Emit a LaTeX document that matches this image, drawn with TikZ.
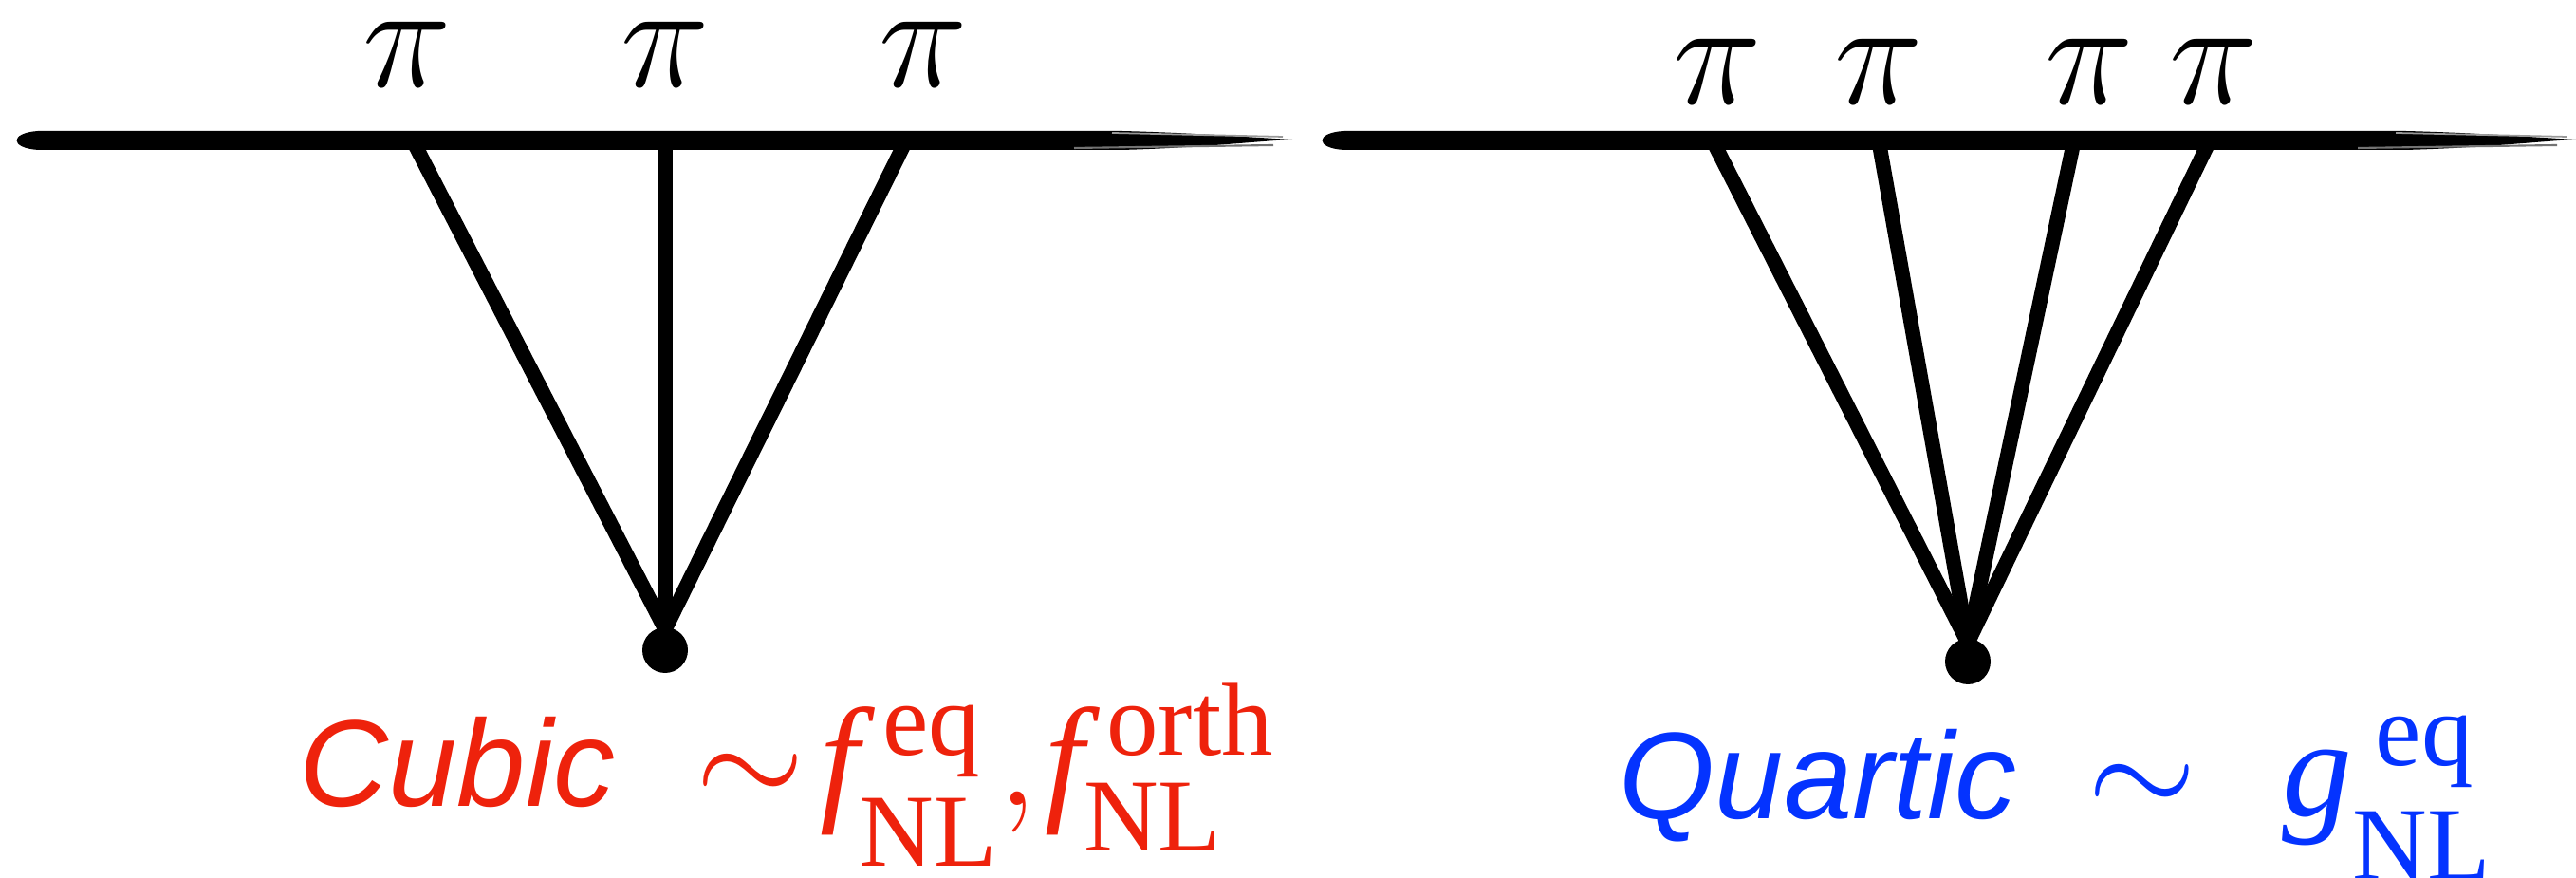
\documentclass[tikz,border=0pt]{standalone}
\usepackage{fix-cm}
\usepackage{mathtools}
\usepackage{fontspec}
\setmainfont{Liberation Serif}
\setsansfont{Liberation Sans}
\usepackage{tikz}
\DeclareMathSizes{42}{42}{31}{24}
\definecolor{cubicred}{HTML}{EE220C}
\definecolor{quarticblue}{HTML}{0433FF}
% symbol with eq/orth on top and NL below, #3 = extra drop of NL
\newcommand{\nlsym}[3]{\mathit{#1}\mathrlap{^{\mkern4mu\mathrm{#2}}}{}_{\raisebox{-#3}{$\scriptstyle\mathrm{NL}$}}}

\begin{document}
\begin{tikzpicture}[
  leg/.style={line width=4.4pt},
  vert/.style={circle, fill=black, inner sep=0pt, minimum size=0.48cm},
  pil/.style={inner sep=0pt, font=\fontsize{45}{45}\selectfont},
  lab/.style={anchor=base west, inner sep=0pt, font=\fontsize{37}{40}\selectfont\sffamily\itshape},
  mlab/.style={anchor=base west, inner sep=0pt, font=\fontsize{42}{48}\selectfont}
]
  \useasboundingbox (0,0) rectangle (27.15,9.25);
  % the two brush strokes
  \foreach \a/\b in {0.25/13.62, 14.01/27.15} {
    \fill (\a+0.15,7.67) .. controls (\a-0.15,7.69) and (\a-0.15,7.85) .. (\a+0.15,7.87)
      -- (\b-1.8,7.87) .. controls (\b-1.0,7.85) and (\b-0.4,7.80) .. (\b,7.78)
      .. controls (\b-0.4,7.76) and (\b-1.0,7.69) .. (\b-1.8,7.67) -- cycle;
    \draw[black!55, line width=0.6pt] (\b-2.3,7.69) -- (\b-0.2,7.72);
    \draw[black!40, line width=0.5pt] (\b-1.9,7.85) -- (\b-0.1,7.81);
  }

  % cubic
  \node[pil] (p1) at (4.29,8.68) {$\pi$};
  \node[pil] (p2) at (7.01,8.68) {$\pi$};
  \node[pil] (p3) at (9.73,8.68) {$\pi$};
  \coordinate (t1) at (4.35,7.77);
  \coordinate (t2) at (7.01,7.77);
  \coordinate (t3) at (9.55,7.77);
  \coordinate (c) at (7.01,2.62);
  \node[vert] (v) at (7.01,2.40) {};
  \foreach \t in {t1,t2,t3}
    \draw[leg] (\t) -- (c);
  \node[lab, text=cubicred] (cubic) at (3.15,0.75) {Cubic};
  \node[mlab, text=cubicred] (fnl) at (7.33,0.76)
    {$\sim\mkern-3mu \nlsym{f}{eq}{11.7pt}\mathrm{,}\mkern1mu\nlsym{f}{orth}{7.3pt}$};

  % quartic
  \node[pil] (q1) at (18.10,8.50) {$\pi$};
  \node[pil] (q2) at (19.80,8.50) {$\pi$};
  \node[pil] (q3) at (22.02,8.50) {$\pi$};
  \node[pil] (q4) at (23.33,8.50) {$\pi$};
  \coordinate (s1) at (18.05,7.77);
  \coordinate (s2) at (19.80,7.77);
  \coordinate (s3) at (21.86,7.77);
  \coordinate (s4) at (23.29,7.77);
  \coordinate (d) at (20.74,2.48);
  \node[vert] (w) at (20.74,2.28) {};
  \foreach \s in {s1,s2,s3,s4}
    \draw[leg] (\s) -- (d);
  \node[lab, text=quarticblue] (quartic) at (17.06,0.62) {Quartic};
  \node[mlab, text=quarticblue] (gnl) at (22.00,0.65)
    {$\sim\mkern6mu \nlsym{g}{eq}{12.7pt}$};
\end{tikzpicture}
\end{document}
